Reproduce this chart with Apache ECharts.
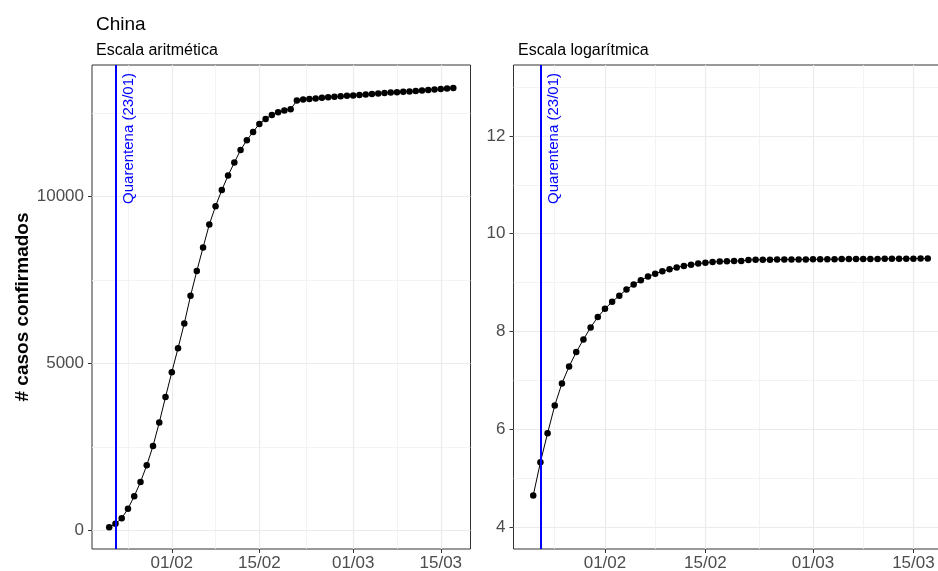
<!DOCTYPE html>
<html>
<head>
<meta charset="utf-8">
<script src="https://cdn.jsdelivr.net/npm/echarts@6/dist/echarts.min.js"></script>
<style>
  html, body { margin: 0; padding: 0; background: #ffffff; overflow: hidden; }
  /* the right panel runs slightly past the window edge */
  #chart { width: 950px; height: 571px; }
</style>
</head>
<body>
<div id="chart"></div>
<script>
// Daily cumulative confirmed cases
const dates = [
  '2020-01-22','2020-01-23','2020-01-24','2020-01-25','2020-01-26','2020-01-27','2020-01-28',
  '2020-01-29','2020-01-30','2020-01-31','2020-02-01','2020-02-02','2020-02-03','2020-02-04',
  '2020-02-05','2020-02-06','2020-02-07','2020-02-08','2020-02-09','2020-02-10','2020-02-11',
  '2020-02-12','2020-02-13','2020-02-14','2020-02-15','2020-02-16','2020-02-17','2020-02-18',
  '2020-02-19','2020-02-20','2020-02-21','2020-02-22','2020-02-23','2020-02-24','2020-02-25',
  '2020-02-26','2020-02-27','2020-02-28','2020-02-29','2020-03-01','2020-03-02','2020-03-03',
  '2020-03-04','2020-03-05','2020-03-06','2020-03-07','2020-03-08','2020-03-09','2020-03-10',
  '2020-03-11','2020-03-12','2020-03-13','2020-03-14','2020-03-15','2020-03-16','2020-03-17'
];
const cases = [
  104, 205, 371, 655, 1030, 1455, 1956,
  2530, 3236, 4000, 4740, 5460, 6200, 7030,
  7770, 8475, 9165, 9714, 10195, 10630, 11020,
  11395, 11689, 11937, 12177, 12327, 12446, 12527,
  12578, 12617, 12874, 12904, 12925, 12940, 12958,
  12972, 12990, 13005, 13018, 13030, 13042, 13058,
  13072, 13088, 13105, 13116, 13124, 13137, 13150,
  13164, 13178, 13190, 13203, 13218, 13234, 13254
];

// Quarantine date marker
const quarantineDate = '2020-01-23';
const quarantineLabel = 'Quarentena (23/01)';

// Axis ticks
const xMajorTicks = ['2020-02-01', '2020-02-15', '2020-03-01', '2020-03-15'];
const xMinorTicks = ['2020-01-25', '2020-02-08', '2020-02-22 12:00:00', '2020-03-08'];
const yLinMajor = [0, 5000, 10000];
const yLinMinor = [2500, 7500, 12500];
const yLogMajor = [4, 6, 8, 10, 12];
const yLogMinor = [5, 7, 9, 11, 13];

const FONT = "'Liberation Sans', Arial, Helvetica, sans-serif";
const ts = (s) => echarts.time.parse(s).getTime();
const xMin = ts('2020-01-19 06:00:00');
const xMax = ts('2020-03-19 18:00:00');

const linPoints = dates.map((d, i) => [ts(d), cases[i]]);
const logPoints = dates.map((d, i) => [ts(d), Math.log(cases[i])]);

function fmtDate(v) {
  return echarts.time.format(v, '{dd}/{MM}', false);
}

function majorX(gridIndex) {
  const t = xMajorTicks.map(ts);
  return {
    type: 'value', gridIndex, min: xMin, max: xMax,
    axisLine: { show: false, onZero: false },
    axisTick: { show: true, customValues: t, length: 4, lineStyle: { color: '#333333', width: 1 } },
    axisLabel: { customValues: t, formatter: fmtDate, color: '#4D4D4D', fontSize: 17, fontFamily: FONT, margin: 6, hideOverlap: false },
    splitLine: { show: true, lineStyle: { color: '#EBEBEB', width: 1.2 } }
  };
}
function minorX(gridIndex) {
  const t = xMinorTicks.map(ts);
  return {
    type: 'value', gridIndex, min: xMin, max: xMax,
    axisLine: { show: false, onZero: false },
    axisTick: { show: false, customValues: t },
    axisLabel: { show: false, customValues: t },
    splitLine: { show: true, lineStyle: { color: '#F0F0F0', width: 0.8 } }
  };
}
function majorY(gridIndex, min, max, ticks, extra) {
  return Object.assign({
    type: 'value', gridIndex, min, max,
    axisLine: { show: false, onZero: false },
    axisTick: { show: true, customValues: ticks, length: 4, lineStyle: { color: '#333333', width: 1 } },
    axisLabel: { customValues: ticks, formatter: (v) => String(v), color: '#4D4D4D', fontSize: 17, fontFamily: FONT, margin: 8 },
    splitLine: { show: true, lineStyle: { color: '#EBEBEB', width: 1.2 } }
  }, extra || {});
}
function minorY(gridIndex, min, max, ticks) {
  return {
    type: 'value', gridIndex, min, max,
    axisLine: { show: false, onZero: false },
    axisTick: { show: false, customValues: ticks },
    axisLabel: { show: false, customValues: ticks },
    splitLine: { show: true, lineStyle: { color: '#F0F0F0', width: 0.8 } }
  };
}

function quarantineMark() {
  return {
    silent: true,
    symbol: ['none', 'none'],
    animation: false,
    lineStyle: { color: '#0000FF', width: 2, type: 'solid' },
    label: {
      show: true,
      formatter: quarantineLabel,
      position: 'insideEndBottom',
      color: '#0000FF',
      fontSize: 15,
      fontFamily: FONT,
      distance: [8, 6]
    },
    data: [{ xAxis: ts(quarantineDate) }]
  };
}

function pointSeries(xi, yi, data) {
  return {
    type: 'line', xAxisIndex: xi, yAxisIndex: yi, data,
    symbol: 'circle', symbolSize: 6.5, showSymbol: true,
    itemStyle: { color: '#000000' },
    lineStyle: { color: '#000000', width: 1 },
    markLine: quarantineMark(),
    z: 3
  };
}

const chart = echarts.init(document.getElementById('chart'), null, { renderer: 'canvas' });
chart.setOption({
  animation: false,
  backgroundColor: '#ffffff',
  title: [
    { text: 'China', left: 91, top: 10, textStyle: { fontSize: 19, fontWeight: 'normal', color: '#000000', fontFamily: FONT } },
    { text: 'Escala aritmética', left: 91, top: 38, textStyle: { fontSize: 16, fontWeight: 'normal', color: '#000000', fontFamily: FONT } },
    { text: 'Escala logarítmica', left: 513, top: 38, textStyle: { fontSize: 16, fontWeight: 'normal', color: '#000000', fontFamily: FONT } }
  ],
  grid: [
    { left: 92, top: 65, width: 378.5, height: 484, outerBoundsMode: 'none', containLabel: false,
      show: true, borderColor: '#333333', borderWidth: 1, backgroundColor: 'transparent' },
    { left: 513.5, top: 65, width: 434, height: 484, outerBoundsMode: 'none', containLabel: false,
      show: true, borderColor: '#333333', borderWidth: 1, backgroundColor: 'transparent' }
  ],
  xAxis: [majorX(0), minorX(0), majorX(1), minorX(1)],
  yAxis: [
    majorY(0, -550, 13940, yLinMajor, {
      name: '# casos confirmados', nameLocation: 'middle', nameGap: 60,
      nameTextStyle: { fontSize: 19, fontWeight: 'bold', color: '#000000', fontFamily: FONT }
    }),
    minorY(0, -550, 13940, yLinMinor),
    majorY(1, 3.55, 13.45, yLogMajor),
    minorY(1, 3.55, 13.45, yLogMinor)
  ],
  series: [
    pointSeries(0, 0, linPoints),
    pointSeries(2, 2, logPoints)
  ]
});
</script>
</body>
</html>
